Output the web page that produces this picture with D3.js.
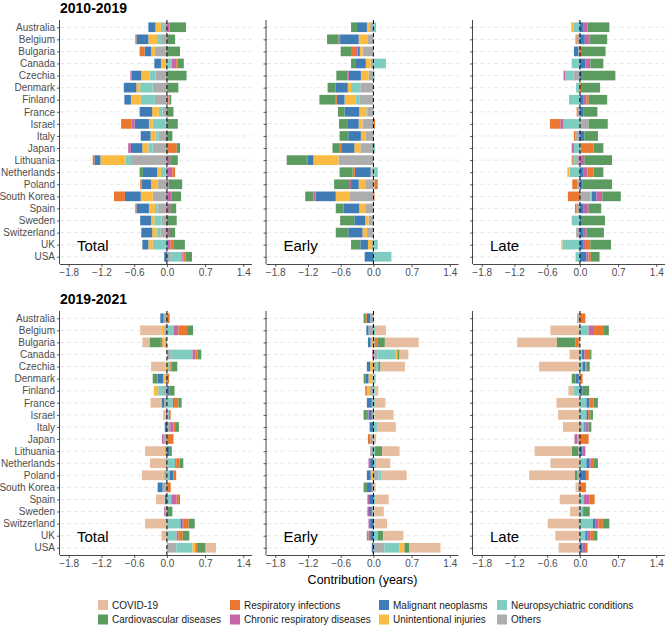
<!DOCTYPE html>
<html>
<head>
<meta charset="utf-8">
<script src="https://cdn.jsdelivr.net/npm/d3@7"></script>
<style>
  body { margin: 0; background: #fff; }
  text { font-family: "Liberation Sans", Arial, sans-serif; }
</style>
</head>
<body>
<div id="chart"></div>
<script>
// causes, in factor order (legend is filled by column)
const causes = ["COVID-19", "Cardiovascular diseases", "Respiratory infections", "Chronic respiratory diseases",
  "Malignant neoplasms", "Unintentional injuries", "Neuropsychiatric conditions", "Others"]
const causeColors = ["#E7BD9F", "#5C9B60", "#E9772D", "#C766A6", "#3F7CB6", "#FBBA42", "#7FCDC1", "#ADADAD"]

const countries = ["Australia", "Belgium", "Bulgaria", "Canada", "Czechia", "Denmark", "Finland", "France",
  "Israel", "Italy", "Japan", "Lithuania", "Netherlands", "Poland", "South Korea", "Spain", "Sweden",
  "Switzerland", "UK", "USA"]

const xTicks = [-1.8, -1.2, -0.6, 0.0, 0.7, 1.4]
const periods = ["2010-2019", "2019-2021"]
const components = ["Total", "Early", "Late"]

// one row per country, values in the order of `causes`
const total1019 = [
  [0, 0.30, 0, 0.05, -0.13, -0.10, -0.06, -0.05],
  [0, 0.13, -0.02, 0.02, -0.22, -0.16, -0.09, -0.09],
  [0, 0.24, -0.09, 0, -0.12, -0.07, 0, -0.22],
  [0, 0.12, 0.02, 0.08, -0.12, -0.08, 0.09, -0.03],
  [0, 0.36, 0, -0.02, -0.18, -0.15, -0.11, -0.21],
  [0, 0.19, 0.02, 0, -0.23, -0.07, -0.23, -0.26],
  [0, 0.03, 0.02, 0.03, -0.12, -0.18, -0.26, -0.22],
  [0, 0.12, 0, 0, -0.23, -0.12, -0.07, -0.08],
  [0, 0.20, -0.19, -0.06, -0.26, -0.07, -0.23, -0.03],
  [0, 0.10, 0, 0, -0.18, -0.09, -0.06, -0.15],
  [0, 0.06, 0.18, -0.05, -0.21, -0.11, -0.08, -0.26],
  [0, 0.14, -0.03, 0.06, -0.11, -0.46, -0.10, -0.66],
  [0, -0.06, 0.05, 0.10, -0.26, -0.07, -0.08, -0.03],
  [0, 0.25, -0.03, 0.03, -0.17, -0.12, 0, -0.17],
  [0, 0.18, -0.20, 0.08, -0.29, -0.22, 0, -0.26],
  [0, 0.11, -0.02, 0.06, -0.23, -0.11, -0.05, -0.17],
  [0, 0.18, 0, 0, -0.20, -0.06, -0.13, -0.10],
  [0, 0.11, 0, 0.04, -0.20, -0.08, -0.07, -0.12],
  [0, 0.20, 0.06, 0.07, -0.11, -0.08, -0.26, 0],
  [0, 0.12, 0.04, 0.02, -0.05, 0, 0.21, 0.07]
]
const early1019 = [
  [0, -0.11, 0, 0, -0.18, -0.06, 0.05, -0.06],
  [0, -0.21, 0, -0.03, -0.34, -0.17, 0, -0.10],
  [0, -0.19, -0.09, -0.03, -0.04, -0.05, 0, -0.20],
  [0, -0.09, 0, 0, -0.18, -0.09, 0.23, -0.05],
  [0, -0.20, 0, -0.03, -0.22, -0.14, 0.02, -0.09],
  [0, -0.15, 0, 0, -0.22, -0.06, -0.17, -0.24],
  [0, -0.30, -0.02, 0, -0.14, -0.20, -0.07, -0.26],
  [0, -0.12, 0, 0, -0.27, -0.13, -0.03, -0.10],
  [0, -0.15, 0.03, 0, -0.21, -0.07, 0, -0.20],
  [0, -0.16, 0, 0, -0.23, -0.09, 0, -0.14],
  [0, -0.12, -0.04, 0, -0.24, -0.11, 0.03, -0.24],
  [0, -0.37, 0, -0.02, -0.10, -0.46, 0, -0.64],
  [0, -0.24, -0.04, 0, -0.29, -0.02, 0.08, -0.03],
  [0, -0.29, 0.06, -0.02, -0.14, -0.12, 0.02, -0.15],
  [0, -0.15, 0.02, -0.04, -0.37, -0.26, 0, -0.43],
  [0, -0.14, 0, 0, -0.29, -0.11, 0, -0.15],
  [0, -0.26, 0, 0, -0.20, -0.06, 0, -0.09],
  [0, -0.23, 0, 0, -0.26, -0.08, 0, -0.12],
  [0, -0.17, 0, 0, -0.14, -0.06, 0.08, -0.04],
  [0, 0, 0, 0, -0.16, 0, 0.33, 0]
]
const late1019 = [
  [0, 0.40, 0, 0.07, 0.07, -0.05, -0.11, 0],
  [0, 0.32, -0.02, 0.09, 0.09, 0, 0, -0.06],
  [0, 0.45, 0.02, 0, -0.08, 0, 0, -0.03],
  [0, 0.24, 0, 0.09, 0.10, 0, -0.15, 0],
  [0, 0.61, 0, -0.03, 0.04, 0, -0.15, -0.12],
  [0, 0.35, 0.02, 0, 0, 0, -0.07, 0],
  [0, 0.34, 0.04, 0.05, 0.07, 0, -0.20, 0],
  [0, 0.25, -0.02, 0, 0.07, 0, 0, -0.04],
  [0, 0.35, -0.19, -0.06, 0, 0, -0.30, 0.16],
  [0, 0.25, -0.03, 0, 0.08, 0, 0, -0.08],
  [0, 0.18, 0.23, -0.04, 0, 0, -0.11, 0.02],
  [0, 0.51, -0.02, 0.08, 0, 0, -0.06, -0.07],
  [0, 0.18, 0.11, 0.07, 0.07, -0.04, -0.19, 0],
  [0, 0.54, -0.09, 0, 0.05, 0, 0, -0.05],
  [0, 0.34, -0.22, 0.11, 0.08, 0, 0.03, 0.19],
  [0, 0.23, -0.03, 0.09, 0.07, 0, 0, -0.06],
  [0, 0.44, 0, 0, 0.02, 0, -0.15, 0],
  [0, 0.32, 0, 0.05, 0.07, 0, 0, -0.07],
  [0, 0.38, 0.08, 0.04, 0.07, -0.02, -0.32, 0],
  [0, 0.16, 0.04, 0.04, 0.12, 0, -0.08, 0]
]
const total1921 = [
  [0, 0, 0.05, 0, -0.06, 0, 0, -0.06],
  [-0.40, 0.11, 0.16, 0.09, 0, -0.04, 0.12, -0.05],
  [-0.13, -0.21, -0.03, 0, 0, -0.04, 0, -0.04],
  [0, 0.07, 0.04, 0.05, 0, 0, 0.40, 0.07],
  [-0.26, 0.10, 0.03, 0, 0, -0.03, 0.06, 0],
  [0, -0.09, 0.04, 0, -0.10, -0.04, 0, -0.03],
  [0, 0.09, 0, 0, 0.05, -0.08, -0.09, -0.07],
  [-0.21, 0.06, 0.08, 0.02, -0.04, 0, 0.11, -0.05],
  [-0.05, 0, 0.03, -0.02, 0, 0, 0.04, 0],
  [0, 0.07, 0.03, 0.06, -0.04, 0, 0, 0.06],
  [0, 0, 0.12, -0.03, 0, 0, 0, -0.06],
  [-0.33, 0.05, 0, 0, 0.04, -0.03, 0, -0.04],
  [-0.28, 0.07, 0.06, 0.02, 0, 0, 0.15, -0.03],
  [-0.38, 0, 0.05, 0, 0.07, -0.03, 0.05, -0.05],
  [0, 0, 0.07, 0, -0.09, 0, 0, -0.08],
  [-0.16, 0.02, 0.04, 0.10, -0.04, 0, 0.08, 0],
  [0, 0.10, 0, -0.02, 0, 0, 0, -0.03],
  [-0.40, 0.11, 0.09, 0.03, 0.03, 0, 0.25, 0],
  [-0.10, 0.12, 0.08, 0.03, 0, 0, 0.18, 0],
  [0.19, 0.14, 0.05, 0, 0, 0.05, 0.30, 0.17]
]
const early1921 = [
  [0, -0.04, -0.02, 0, -0.06, 0, 0, -0.06],
  [0.20, 0, 0, 0, -0.04, 0, 0.03, -0.09],
  [0.62, 0.13, 0.05, 0, -0.05, -0.05, 0, 0.03],
  [0.16, 0.04, 0, -0.02, 0, 0.03, 0.34, 0.07],
  [0.45, 0.04, 0, 0, -0.06, -0.06, 0.04, 0.05],
  [0, -0.03, 0, 0, -0.06, -0.07, 0.04, -0.02],
  [0.05, 0, -0.03, 0, 0, -0.06, 0.04, -0.06],
  [0.19, 0, 0, 0, -0.09, 0, 0.03, -0.03],
  [0.35, -0.06, 0, -0.03, -0.06, 0, 0.02, -0.03],
  [0.33, 0, 0, 0, -0.07, 0, 0.08, 0],
  [0.05, 0, -0.04, 0, 0, 0, 0, -0.06],
  [0.32, 0.13, 0, 0, 0, 0, 0.03, -0.06],
  [0.26, 0, 0, -0.03, -0.06, 0, 0.05, 0],
  [0.47, 0, 0, 0, -0.07, -0.05, 0.05, 0.09],
  [0.04, -0.06, 0, 0, -0.09, 0, 0, -0.03],
  [0.25, 0, 0, -0.03, -0.08, 0, 0.03, 0],
  [0.17, 0, 0, -0.03, -0.05, 0, 0.02, -0.03],
  [0.23, 0, 0, -0.03, -0.06, 0, 0.02, 0],
  [0.37, 0.10, -0.03, -0.03, -0.06, 0, 0.08, 0],
  [0.57, 0.09, 0, 0, -0.03, 0.09, 0.28, 0.20]
]
const late1921 = [
  [0, 0, 0.10, 0, 0, 0, 0, -0.05],
  [-0.54, 0.09, 0.18, 0.10, 0, 0, 0.16, 0],
  [-0.73, -0.34, -0.06, 0, 0, -0.02, 0, 0],
  [-0.19, 0.04, 0.06, 0.03, 0.04, 0, 0.04, 0],
  [-0.75, 0.06, 0, 0.02, 0.05, 0, 0.05, 0],
  [0, -0.07, 0.05, 0, -0.06, 0, 0, -0.02],
  [-0.10, 0.12, 0, 0, 0.05, 0, -0.11, 0],
  [-0.43, 0.08, 0.08, 0, 0.05, 0, 0.12, 0],
  [-0.40, 0.05, 0.04, 0, 0.03, 0, 0.12, 0],
  [-0.31, 0.05, 0, 0.06, 0.02, 0, 0.04, 0.04],
  [0, 0, 0.16, -0.05, 0, 0, 0, -0.05],
  [-0.68, -0.12, 0, 0.05, 0.05, 0, 0, -0.03],
  [-0.54, 0.07, 0.06, 0.03, 0.05, 0, 0.12, 0],
  [-0.84, -0.04, 0.05, 0, 0.11, 0, 0, -0.05],
  [-0.04, 0, 0.11, 0, 0, 0, 0, -0.04],
  [-0.37, 0, 0.09, 0.11, 0, 0, 0.07, 0],
  [-0.18, 0.11, 0, 0, 0.02, 0, 0.05, 0],
  [-0.59, 0.12, 0.08, 0.05, 0.05, 0, 0.24, 0],
  [-0.45, 0.06, 0.07, 0.05, 0.04, 0, 0.10, 0],
  [-0.39, 0, 0.03, 0.06, 0.05, 0, 0, 0]
]

const panelData = [[total1019, early1019, late1019], [total1921, early1921, late1921]]

const W = 670, H = 627
const svg = d3.select("#chart").append("svg").attr("width", W).attr("height", H)

const panelLeft = [60, 266.5, 473]
const panelW = 192
const rowTop = [20, 311]
const rowH = 244

const color = d3.scaleOrdinal(causes, causeColors)
// stack outward from zero: Others first, COVID-19 last
const stack = d3.stack()
  .keys(causes.slice().reverse())
  .offset(d3.stackOffsetDiverging)

periods.forEach((period, r) => {
  svg.append("text").attr("x", panelLeft[0]).attr("y", rowTop[r] - 7)
    .text(period).style("font-size", "14px").style("font-weight", "bold").style("fill", "#000")

  components.forEach((comp, c) => {
    const x = d3.scaleLinear().domain([-1.96, 1.56]).range([panelLeft[c], panelLeft[c] + panelW])
    const y = d3.scalePoint().domain(countries).range([rowTop[r], rowTop[r] + rowH]).padding(0.6)
    const barH = y.step() * 0.8
    const g = svg.append("g")

    // dashed grid lines
    g.selectAll(".grid").data(countries).join("line")
      .attr("x1", panelLeft[c]).attr("x2", panelLeft[c] + panelW)
      .attr("y1", d => y(d)).attr("y2", d => y(d))
      .attr("stroke", "#d6d6d6").attr("stroke-width", 0.6).attr("stroke-dasharray", "4,3")

    const rows = panelData[r][c].map((vals, i) => {
      const o = {country: countries[i]}
      causes.forEach((k, j) => o[k] = vals[j])
      return o
    })
    const series = stack(rows)

    g.selectAll(".layer").data(series).join("g")
      .attr("fill", d => color(d.key))
      .selectAll("rect").data(d => d.filter(s => s[1] - s[0] !== 0)).join("rect")
        .attr("x", s => x(Math.min(s[0], s[1])))
        .attr("width", s => Math.abs(x(s[1]) - x(s[0])))
        .attr("y", s => y(s.data.country) - barH / 2)
        .attr("height", barH)

    // zero line
    g.append("line").attr("x1", x(0)).attr("x2", x(0))
      .attr("y1", rowTop[r]).attr("y2", rowTop[r] + rowH)
      .attr("stroke", "#000").attr("stroke-width", 1).attr("stroke-dasharray", "4,2.5")

    // axes
    const yAxis = d3.axisLeft(y).tickSize(3).tickPadding(2)
    if (c > 0) yAxis.tickFormat("")
    const ya = g.append("g").attr("transform", `translate(${panelLeft[c]},0)`).call(yAxis)
    ya.select(".domain").attr("d", `M-0.5,${rowTop[r]}V${rowTop[r] + rowH}`)
    const xa = g.append("g").attr("transform", `translate(0,${rowTop[r] + rowH})`)
      .call(d3.axisBottom(x).tickValues(xTicks).tickSize(3).tickPadding(2).tickFormat(d3.format(".1f")))
    xa.select(".domain").attr("d", `M${panelLeft[c]},0.5H${panelLeft[c] + panelW}`)
    g.selectAll(".domain").attr("stroke", "#333").attr("stroke-width", 0.9)
    g.selectAll(".tick line").attr("stroke", "#333").attr("stroke-width", 0.8)
    g.selectAll(".tick text").style("font-family", "Liberation Sans, Arial, sans-serif")
      .style("font-size", "10px").style("fill", "#4d4d4d")

    // component label
    g.append("text").attr("x", panelLeft[c] + 17).attr("y", rowTop[r] + 231)
      .text(comp).style("font-size", "15px").style("fill", "#000")
  })
})

// x axis title
svg.append("text").attr("x", (panelLeft[0] + panelLeft[2] + panelW) / 2).attr("y", 584)
  .attr("text-anchor", "middle").text("Contribution (years)")
  .style("font-size", "12.5px").style("fill", "#000")

// legend, two rows, filled by column
const legX = [98, 230, 379, 497]
const legY = [605, 619.5]
const leg = svg.append("g")
causes.forEach((k, i) => {
  const col = Math.floor(i / 2), row = i % 2
  leg.append("rect").attr("x", legX[col]).attr("y", legY[row] - 5)
    .attr("width", 10).attr("height", 10).attr("fill", color(k))
  leg.append("text").attr("x", legX[col] + 14).attr("y", legY[row] + 3.5)
    .text(k).style("font-size", "10px").style("fill", "#1a1a1a")
})
</script>
</body>
</html>
